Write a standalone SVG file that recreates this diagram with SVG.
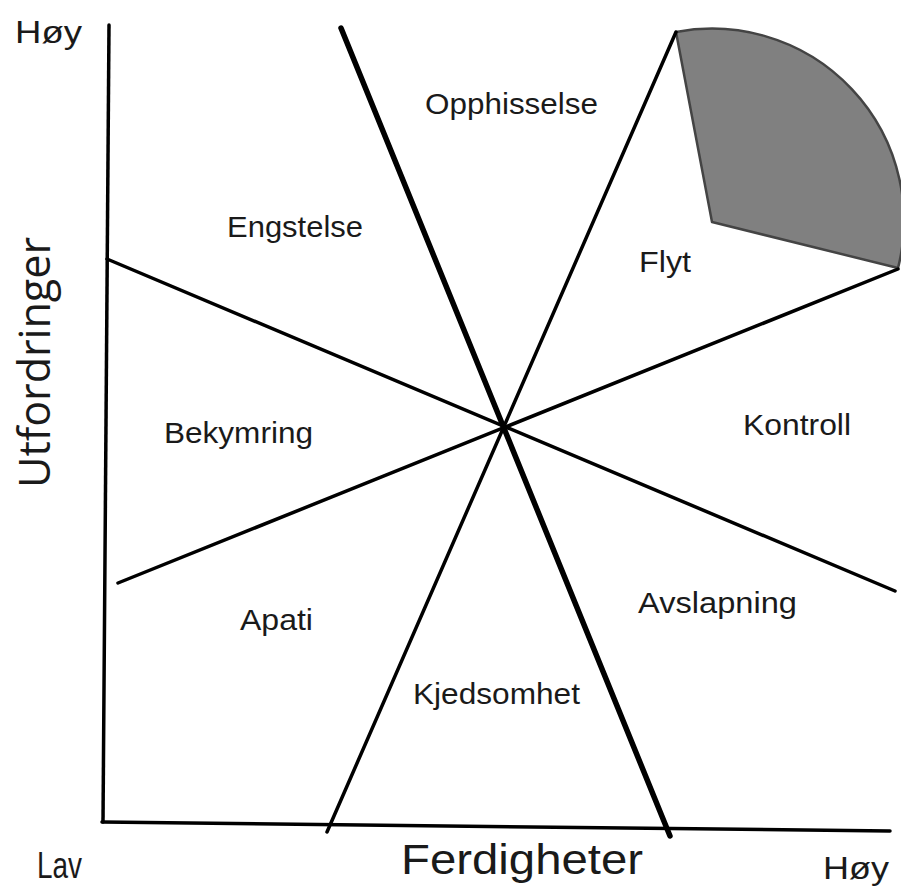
<svg xmlns="http://www.w3.org/2000/svg" width="901" height="888" viewBox="0 0 901 888">
<style>
.ln{stroke:#000;stroke-linecap:round;fill:none}
.lbl{font-family:"Liberation Sans",Arial,sans-serif;font-size:30px;fill:#1a1a1a}
.ax{font-family:"Liberation Sans",Arial,sans-serif;font-size:31px;fill:#1a1a1a}
</style>
<rect width="901" height="888" fill="#fff"/>
<g id="flow-zone">
<path d="M676,32 A192,192 0 0 1 898,268 L712,222 Z" fill="#808080" stroke="#444" stroke-width="2.5" stroke-linejoin="round"/>
</g>
<g id="connectors">
<line class="ln" x1="109" y1="25" x2="103" y2="822" stroke-width="3.5"/>
<line class="ln" x1="102" y1="822" x2="890" y2="831" stroke-width="3.5"/>
<line class="ln" x1="341" y1="28" x2="670" y2="836" stroke-width="5.5"/>
<line class="ln" x1="676" y1="32" x2="327" y2="832" stroke-width="3.5"/>
<line class="ln" x1="107" y1="259" x2="895" y2="591" stroke-width="3.5"/>
<line class="ln" x1="118" y1="583" x2="898" y2="269" stroke-width="3.5"/>
</g>
<g id="axis-labels">
<text class="ax" x="15" y="43" textLength="67" lengthAdjust="spacingAndGlyphs">Høy</text>
<text class="ax" x="37" y="878" style="font-size:36px" textLength="45" lengthAdjust="spacingAndGlyphs">Lav</text>
<text class="ax" x="823" y="879" textLength="66" lengthAdjust="spacingAndGlyphs">Høy</text>
<text x="401" y="874" font-family="'Liberation Sans',Arial,sans-serif" font-size="42" fill="#1a1a1a" textLength="242" lengthAdjust="spacingAndGlyphs">Ferdigheter</text>
<text transform="translate(50,488) rotate(-90)" font-family="'Open Sans',sans-serif" font-size="44" fill="#1a1a1a" textLength="251" lengthAdjust="spacingAndGlyphs">Utfordringer</text>
</g>
<g id="opphisselse"><text class="lbl" x="425" y="114" textLength="173" lengthAdjust="spacingAndGlyphs">Opphisselse</text></g>
<g id="engstelse"><text class="lbl" x="227" y="237" textLength="136" lengthAdjust="spacingAndGlyphs">Engstelse</text></g>
<g id="flyt"><text class="lbl" x="639" y="272" textLength="52" lengthAdjust="spacingAndGlyphs">Flyt</text></g>
<g id="bekymring"><text class="lbl" x="164" y="443" textLength="149" lengthAdjust="spacingAndGlyphs">Bekymring</text></g>
<g id="kontroll"><text class="lbl" x="743" y="435" textLength="108" lengthAdjust="spacingAndGlyphs">Kontroll</text></g>
<g id="apati"><text class="lbl" x="240" y="630" textLength="73" lengthAdjust="spacingAndGlyphs">Apati</text></g>
<g id="avslapning"><text class="lbl" x="638" y="613" textLength="159" lengthAdjust="spacingAndGlyphs">Avslapning</text></g>
<g id="kjedsomhet"><text class="lbl" x="413" y="704" textLength="167" lengthAdjust="spacingAndGlyphs">Kjedsomhet</text></g>
</svg>
